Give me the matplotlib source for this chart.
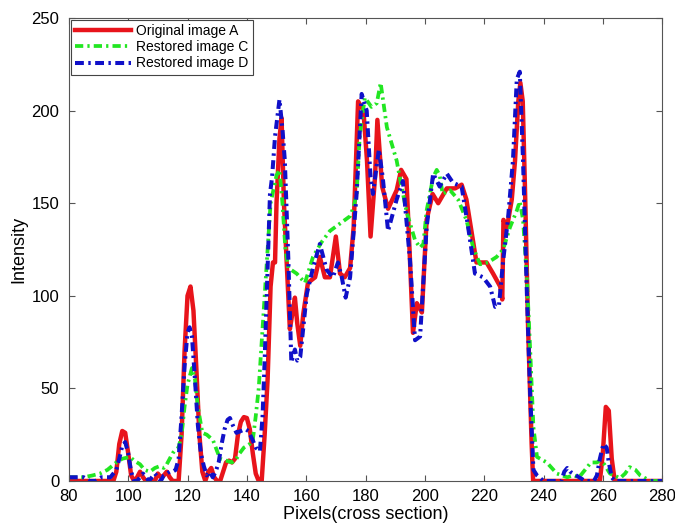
import matplotlib
matplotlib.use('Agg')
import matplotlib.pyplot as plt

plt.rcParams['font.family'] = ['Liberation Sans', 'DejaVu Sans']

# Original image A (red, solid)
red_x = [80, 95, 96, 97, 98, 99, 100, 101, 102, 103, 104, 105, 106, 109, 110, 111, 112, 113, 114, 115,
         117, 118, 119, 120, 121, 122, 123, 124, 125, 126, 127, 128, 129, 130, 131, 132, 133, 134, 135, 136,
         137, 138, 139, 140, 141, 142, 143, 144, 145, 146, 147, 148, 148.8, 149.5, 150, 151, 151.7, 152.5,
         153.4, 154.5, 155.3, 156.2, 157, 158, 159, 160.6, 163, 164.6, 166.3, 168, 170, 171.4, 173, 174.8,
         176, 177.5, 179.3, 180.5, 181.7, 183.2, 184, 185.6, 187.6, 190.5, 192, 193.8, 195, 196, 197.3, 199,
         200.6, 202.6, 204.5, 207.4, 210.2, 212.4, 214, 215.8, 217.4, 220.8, 223, 225.4, 226.1, 226.5, 227.7,
         229.3, 230.4, 231.5, 232.2, 233, 233.8, 234.8, 236, 236.5, 259, 260, 261, 262, 263, 264, 280]
red_y = [0, 0, 5, 20, 27, 26, 15, 3, 0, 2, 5, 2, 0, 0, 4, 2, 3, 5, 2, 0,
         0, 25, 70, 100, 105, 92, 60, 25, 5, 0, 5, 7, 2, 0, 0, 5, 10, 11, 10, 12,
         25, 32, 34.5, 34, 28, 15, 4, 0, 0, 25, 55, 105, 118, 118, 150, 185, 196, 150,
         119, 82, 90, 99, 85, 73, 90, 107, 110, 121, 110, 110, 132, 112, 110, 115,
         137, 205, 200, 173, 132, 164, 195, 159, 147, 157, 168, 163, 119, 80, 96, 91,
         141, 155, 150, 158, 158, 160, 152, 134, 118, 118, 112, 105, 98, 141, 137,
         152, 173, 205, 215, 205, 155, 83, 20, 0, 0, 15, 40, 38, 12, 0, 0]

# Restored image C (green, dash-dot)
green_x = [80, 85, 88, 90.5, 93, 96, 98, 100.6, 102, 104, 105.5, 107.3, 109, 110.6, 112, 113, 115, 116, 117,
           118, 119, 120, 121.5, 122.5, 123.5, 125, 126.5, 128.6, 130, 131, 133, 135, 136.5, 137.6, 139, 141,
           142, 143, 144, 145, 146, 147, 148, 150, 151, 152, 153, 154, 156.8, 159.6, 162.3, 165.2, 168, 171.4,
           174.8, 176, 177, 178, 178.7, 179.8, 182, 183.8, 185.1, 187.2, 190.5, 192, 193.9, 196.7, 198.4, 199.5,
           200.6, 202.8, 204, 205, 206, 208.5, 211.2, 214, 216.3, 218.6, 221.3, 224.2, 226.4, 228.7, 231, 232,
           233.1, 234.4, 235.5, 236.6, 237.8, 241.1, 244.5, 248, 250, 252, 254, 256, 258, 259, 260.5, 262.4,
           265.8, 267.5, 269, 271, 272.6, 276, 280]
green_y = [2, 2, 3, 4, 6, 10, 12, 13, 11, 9, 6, 5, 7, 8, 7, 9, 15, 17, 18,
           25, 40, 52, 61, 55, 40, 26, 25, 22, 16, 12, 11, 10, 12, 15, 18, 20,
           22, 35, 50, 75, 100, 125, 150, 165, 168, 150, 125, 115, 112, 107, 121, 129, 135, 139,
           143, 148, 155, 185, 195, 207, 202, 204, 215, 191, 173, 160, 145, 130, 126, 128,
           146, 164, 168, 165, 155, 157, 152, 141, 126, 117, 118, 121, 125, 137, 146, 151,
           141, 110, 71, 29, 13, 10, 4, 2, 3, 2, 6, 10, 10, 11, 9, 4,
           1.5, 4, 7.5, 6, 3, 0, 0]

# Restored image D (blue, dash-dot)
blue_x = [80, 85, 87, 89, 91, 94, 96, 97, 98, 99, 100, 101, 102, 103, 104, 105, 106, 107, 108, 109, 110, 111,
          112, 113, 114, 115, 116, 117, 118, 119, 120, 120.7, 121.5, 122.5, 123.5, 124.5, 125.5, 126.5, 127.5,
          128.5, 129.5, 130.5, 131.5, 132.5, 133.5, 134.3, 135.3, 136.5, 138, 139.5, 140.5, 142, 143, 144.4,
          145.3, 146, 147, 147.8, 148.5, 149.5, 151, 152, 152.8, 154, 155, 156.2, 157, 158, 160.2, 162.3, 164.6,
          166.9, 169, 170.7, 172, 173.3, 174.8, 177, 178.7, 180.4, 181.7, 182.5, 184.5, 185.8, 187.6, 190.5,
          192.6, 195, 196.7, 198.4, 200.6, 202.8, 205, 207.4, 209.5, 212.4, 214.6, 216.9, 219.6, 222, 223.7,
          225, 226.4, 228, 229.7, 231, 232, 233.1, 234.4, 235.5, 236.6, 237.8, 240, 246, 247, 248, 249, 250,
          252, 254, 257, 258, 259, 260.2, 261.3, 262, 263, 264, 280]
blue_y = [2, 2, 0, 0, 2, 2, 6, 12, 19, 21, 15, 5, 0, 0, 2, 4, 2, 0, 2, 4, 2, 0,
          3, 4, 5, 5, 6, 12, 35, 62, 80, 83, 78, 55, 30, 15, 8, 3, 5,
          2, 5, 10, 20, 28, 33, 34, 30, 26, 27, 28, 27, 22, 18, 16,
          35, 65, 115, 155, 164, 186, 206, 190, 173, 119, 64, 71, 65, 67, 101, 115, 128,
          114, 110, 118, 110, 99, 110, 155, 209, 200, 164, 155, 179, 164, 135, 152,
          162, 119, 76, 78, 137, 166, 159, 166, 161, 159, 137, 112, 110, 105, 94,
          95, 119, 141, 173, 217, 221, 173, 101, 47, 6, 3, 0, 0, 5, 7, 5, 4,
          2, 0, 0, 3, 12, 20, 18, 10, 2, 0, 0]

fig = plt.figure(figsize=(6.75, 5.3), dpi=100)
ax = fig.add_axes([0.102, 0.0925, 0.879, 0.8735])

dd = (0, (2.2, 1.1, 0.6, 1.1))
ax.plot(red_x, red_y, color='#e8141b', lw=3.2, label='Original image A')
ax.plot(green_x, green_y, color='#22e622', lw=2.7, linestyle=dd, label='Restored image C')
ax.plot(blue_x, blue_y, color='#1010c8', lw=2.9, linestyle=dd, label='Restored image D')

ax.set_xlim(80, 280)
ax.set_ylim(0, 250)
ax.set_xticks(range(80, 281, 20))
ax.set_yticks(range(0, 251, 50))
ax.tick_params(direction='in', top=True, right=True, labelsize=12, length=4, color='#555555')
ax.tick_params(axis='x', pad=6)
ax.tick_params(axis='y', pad=7)
for s in ax.spines.values():
    s.set_color('#555555')
    s.set_linewidth(0.8)

ax.set_xlabel('Pixels(cross section)', fontsize=13, labelpad=1)
ax.set_ylabel('Intensity', fontsize=13, labelpad=3)

leg = ax.legend(loc='upper left', fontsize=10, handlelength=4.0, borderaxespad=0.15,
                fancybox=False, framealpha=1, edgecolor='#444444', labelspacing=0.15,
                borderpad=0.3, handletextpad=0.4)
leg.get_frame().set_linewidth(0.8)

fig.savefig('out.png', dpi=100)
